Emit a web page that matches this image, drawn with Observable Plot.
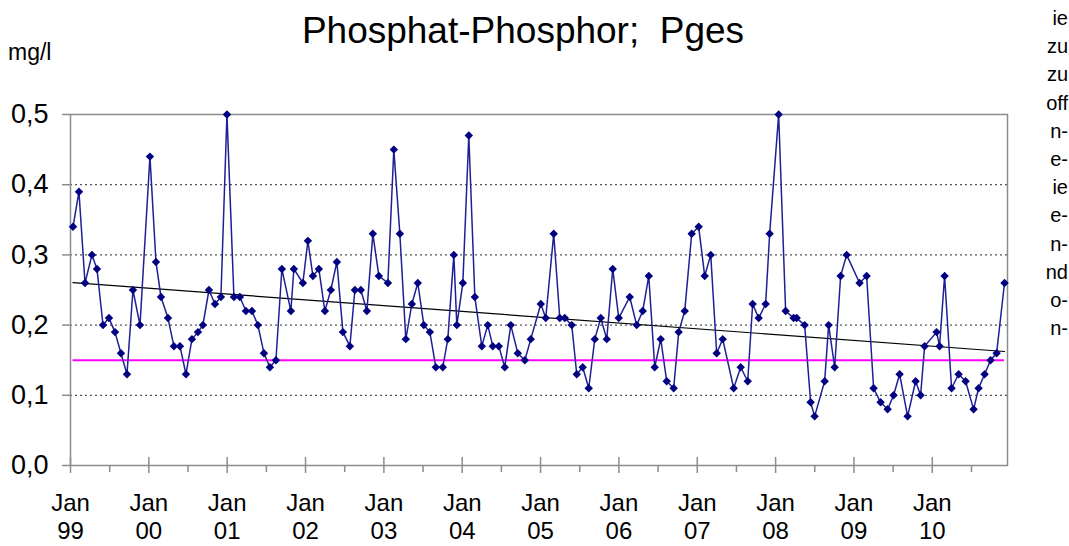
<!DOCTYPE html>
<html>
<head>
<meta charset="utf-8">
<script src="https://cdn.jsdelivr.net/npm/d3@7"></script>
<script src="https://cdn.jsdelivr.net/npm/@observablehq/plot@0.6"></script>
<style>
  html, body { margin: 0; padding: 0; background: #fff; }
  #wrap { position: relative; width: 1069px; height: 546px; overflow: hidden; font-family: "Liberation Sans", Arial, sans-serif; }
  #chart { position: absolute; left: 0; top: 0; }
  #title { position: absolute; left: 523px; top: 10px; transform: translateX(-50%); font-size: 37px; white-space: pre; color: #000; }
  #unit { position: absolute; left: 8px; top: 39px; font-size: 23px; color: #000; }
  #side { position: absolute; right: 1px; top: 4px; font-size: 20px; line-height: 28.2px; color: #000; text-align: right; }
  #side div { white-space: nowrap; }
</style>
</head>
<body>
<div id="wrap">
  <div id="chart"></div>
  <div id="title"></div>
  <div id="unit"></div>
  <div id="side"></div>
</div>
<script>
// ---- data ----
const chartTitle = "Phosphat-Phosphor;  Pges";
const unitLabel = "mg/l";
// sampling dates as decimal years
const sampleYears = [
  1999.032, 1999.108, 1999.185, 1999.274, 1999.338, 1999.415, 1999.491, 1999.568, 1999.644, 1999.721, 1999.797, 1999.887,
  2000.014, 2000.091, 2000.155, 2000.244, 2000.320, 2000.397, 2000.474, 2000.550, 2000.627, 2000.690, 2000.767, 2000.844, 2000.920,
  2000.997, 2001.086, 2001.162, 2001.239, 2001.316, 2001.392, 2001.469, 2001.545, 2001.622, 2001.698, 2001.813, 2001.851, 2001.966,
  2002.030, 2002.094, 2002.170, 2002.247, 2002.323, 2002.400, 2002.477, 2002.566, 2002.630, 2002.706, 2002.783, 2002.859, 2002.936,
  2003.051, 2003.127, 2003.204, 2003.280, 2003.357, 2003.433, 2003.510, 2003.587, 2003.663, 2003.752, 2003.816, 2003.893, 2003.931,
  2004.008, 2004.084, 2004.161, 2004.250, 2004.326, 2004.390, 2004.467, 2004.543, 2004.620, 2004.709, 2004.799, 2004.875,
  2005.003, 2005.066, 2005.168, 2005.245, 2005.309, 2005.398, 2005.462, 2005.538, 2005.615, 2005.692, 2005.768, 2005.845, 2005.921,
  2005.998, 2006.138, 2006.227, 2006.304, 2006.381, 2006.457, 2006.534, 2006.610, 2006.699, 2006.763, 2006.840, 2006.929,
  2007.018, 2007.095, 2007.172, 2007.248, 2007.325, 2007.465, 2007.554, 2007.644, 2007.707, 2007.784, 2007.873, 2007.924,
  2008.039, 2008.128, 2008.230, 2008.269, 2008.371, 2008.447, 2008.498, 2008.626, 2008.677, 2008.754, 2008.830, 2008.907,
  2009.072, 2009.162, 2009.251, 2009.340, 2009.430, 2009.506, 2009.583, 2009.685, 2009.787, 2009.851, 2009.902,
  2010.055, 2010.093, 2010.157, 2010.246, 2010.336, 2010.425, 2010.527, 2010.591, 2010.668, 2010.744, 2010.821, 2010.922
];
// total phosphorus, mg/l
const phosphorValues = [
  0.34, 0.39, 0.26, 0.30, 0.28, 0.20, 0.21, 0.19, 0.16, 0.13, 0.25, 0.20,
  0.44, 0.29, 0.24, 0.21, 0.17, 0.17, 0.13, 0.18, 0.19, 0.20, 0.25, 0.23, 0.24,
  0.50, 0.24, 0.24, 0.22, 0.22, 0.20, 0.16, 0.14, 0.15, 0.28, 0.22, 0.28, 0.26,
  0.32, 0.27, 0.28, 0.22, 0.25, 0.29, 0.19, 0.17, 0.25, 0.25, 0.22, 0.33, 0.27,
  0.26, 0.45, 0.33, 0.18, 0.23, 0.26, 0.20, 0.19, 0.14, 0.14, 0.18, 0.30, 0.20,
  0.26, 0.47, 0.24, 0.17, 0.20, 0.17, 0.17, 0.14, 0.20, 0.16, 0.15, 0.18,
  0.23, 0.21, 0.33, 0.21, 0.21, 0.20, 0.13, 0.14, 0.11, 0.18, 0.21, 0.18, 0.28,
  0.21, 0.24, 0.20, 0.22, 0.27, 0.14, 0.18, 0.12, 0.11, 0.19, 0.22, 0.33,
  0.34, 0.27, 0.30, 0.16, 0.18, 0.11, 0.14, 0.12, 0.23, 0.21, 0.23, 0.33,
  0.50, 0.22, 0.21, 0.21, 0.20, 0.09, 0.07, 0.12, 0.20, 0.14, 0.27, 0.30,
  0.26, 0.27, 0.11, 0.09, 0.08, 0.10, 0.13, 0.07, 0.12, 0.10, 0.17,
  0.19, 0.17, 0.27, 0.11, 0.13, 0.12, 0.08, 0.11, 0.13, 0.15, 0.16, 0.26
];
const targetValue = 0.15;           // magenta reference level
const yTicks = [0, 0.1, 0.2, 0.3, 0.4, 0.5];
const gridValues = [0.1, 0.2, 0.3, 0.4];
const yearTicks = [1999, 2000, 2001, 2002, 2003, 2004, 2005, 2006, 2007, 2008, 2009, 2010];
const yearLabels = ["99", "00", "01", "02", "03", "04", "05", "06", "07", "08", "09", "10"];
const midYearTicks = [1999.5, 2000.5, 2001.5, 2002.5, 2003.5, 2004.5, 2005.5, 2006.5, 2007.5, 2008.5, 2009.5, 2010.5];
const xDomain = [1999, 2010.96];
// fragments of the neighbouring text column, as visible at the right edge
const sideWords = ["ie", "zu", "zu", "off", "n-", "e-", "ie", "e-", "n-", "nd", "o-", "n-"];

// ---- chart ----
const data = sampleYears.map((t, i) => ({t, v: phosphorValues[i]}));
const firstT = sampleYears[0], lastT = sampleYears[sampleYears.length - 1];
const axisFont = '"Liberation Sans", Arial, sans-serif';

const chart = Plot.plot({
  width: 1069,
  height: 546,
  marginLeft: 70,
  marginRight: 62,
  marginTop: 114,
  marginBottom: 81,
  style: {fontFamily: axisFont, fontSize: "26px", color: "#000", background: "transparent", overflow: "visible"},
  x: {type: "linear", domain: xDomain},
  y: {domain: [0, 0.5]},
  marks: [
    Plot.ruleY(gridValues, {stroke: "#555", strokeWidth: 1.3, strokeDasharray: "2,3"}),
    Plot.frame({stroke: "#8c8c8c", strokeWidth: 1.5}),
    Plot.axisY({ticks: yTicks, tickSize: 8, tickPadding: 14, stroke: "#8c8c8c", strokeWidth: 1.5,
      tickFormat: d => d.toFixed(1).replace(".", ","), label: null, fontSize: 27, fill: "#000"}),
    Plot.axisX({ticks: yearTicks, tickSize: 0, tickPadding: 26, lineHeight: 1.16, label: null, fontSize: 24, fill: "#000",
      tickFormat: (d) => "Jan\n" + yearLabels[yearTicks.indexOf(d)]}),
    Plot.ruleX(yearTicks, {y1: 0, y2: 0, insetTop: -8, insetBottom: -8, stroke: "#8c8c8c", strokeWidth: 1.5}),
    Plot.ruleX(midYearTicks, {y1: 0, y2: 0, insetTop: 0, insetBottom: -7, stroke: "#8c8c8c", strokeWidth: 1.5}),
    Plot.ruleY([targetValue], {x1: firstT, x2: lastT, stroke: "#ff00ff", strokeWidth: 2}),
    Plot.linearRegressionY(data, {x: "t", y: "v", ci: 0, stroke: "#000", strokeWidth: 1.2}),
    Plot.line(data, {x: "t", y: "v", stroke: "#1f1f96", strokeWidth: 1.5}),
    Plot.dot(data, {x: "t", y: "v", symbol: "diamond2", r: 3.8, fill: "#000080", stroke: "none"})
  ]
});
document.getElementById("chart").appendChild(chart);
document.getElementById("title").textContent = chartTitle;
document.getElementById("unit").textContent = unitLabel;
const side = document.getElementById("side");
for (const w of sideWords) {
  const d = document.createElement("div");
  d.textContent = w;
  side.appendChild(d);
}
</script>
</body>
</html>
